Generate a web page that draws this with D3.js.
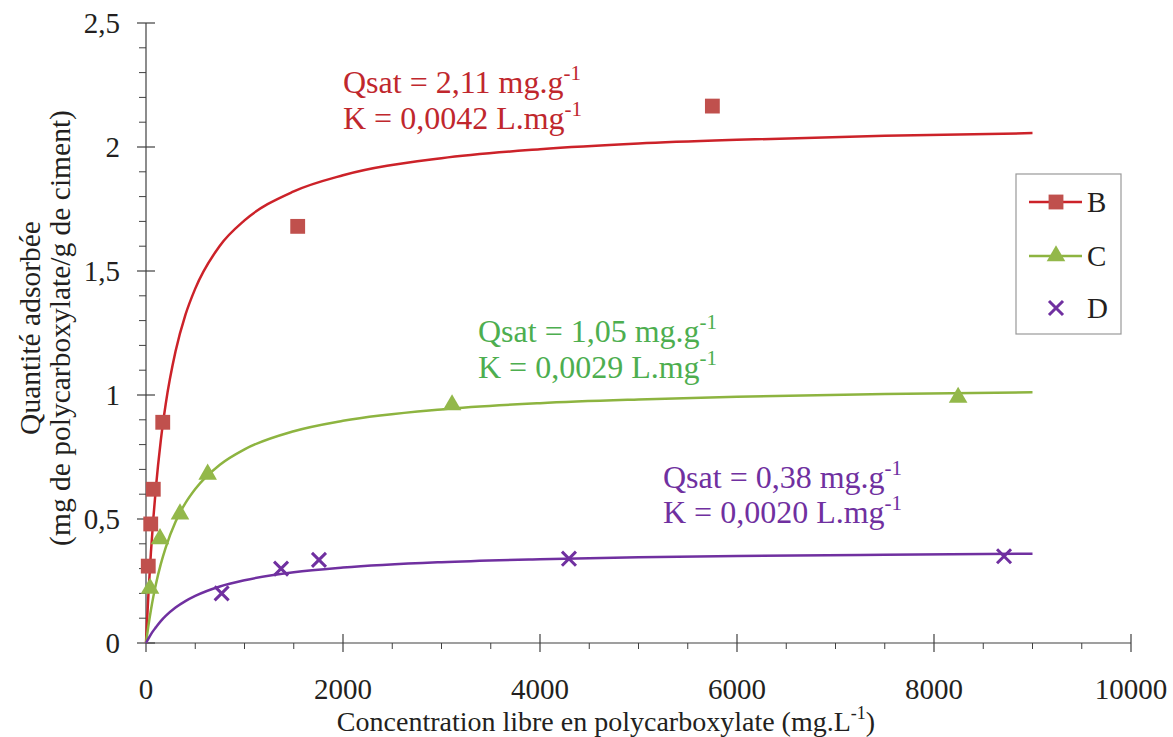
<!DOCTYPE html>
<html>
<head>
<meta charset="utf-8">
<script src="https://cdn.jsdelivr.net/npm/d3@7"></script>
<style>
  html, body { margin: 0; padding: 0; background: #fff; }
  svg { display: block; }
</style>
</head>
<body>
<svg id="chart" width="1173" height="737" font-family="'Liberation Serif', Tinos, 'Times New Roman', Times, 'DejaVu Serif', serif"></svg>
<script>
// ---- Data ----
const seriesNames = ["B", "C", "D"];

// Measured points
const bX = [23, 48, 74, 170, 1540, 5750];
const bY = [0.31, 0.48, 0.62, 0.89, 1.68, 2.165];

const cX = [41, 142, 345, 626, 3107, 8245];
const cY = [0.22, 0.42, 0.52, 0.68, 0.96, 0.99];

const dX = [768, 1371, 1756, 4294, 8711];
const dY = [0.20, 0.30, 0.335, 0.34, 0.35];

// Fitted (Langmuir) curves
const fitX = [0, 10, 25, 50, 75, 100, 150, 200, 300, 400, 500, 750, 1000, 1500, 2000, 3000, 4000, 5000, 6000, 7500, 9000];
const fitB = [0, 0.085, 0.200, 0.366, 0.505, 0.624, 0.816, 0.963, 1.176, 1.323, 1.429, 1.602, 1.704, 1.821, 1.886, 1.955, 1.991, 2.014, 2.029, 2.045, 2.056];
const fitC = [0, 0.030, 0.071, 0.133, 0.188, 0.236, 0.318, 0.385, 0.489, 0.564, 0.621, 0.719, 0.781, 0.854, 0.896, 0.942, 0.967, 0.982, 0.993, 1.004, 1.011];
const fitD = [0, 0.007, 0.018, 0.035, 0.050, 0.063, 0.088, 0.109, 0.143, 0.169, 0.190, 0.228, 0.253, 0.285, 0.304, 0.326, 0.338, 0.346, 0.351, 0.356, 0.360];

// Annotations
const annQsat = ["2,11", "1,05", "0,38"];
const annK = ["0,0042", "0,0029", "0,0020"];

// Axis ticks
const xTicks = [0, 2000, 4000, 6000, 8000, 10000];
const yTicks = [0, 0.5, 1, 1.5, 2, 2.5];
const yTickLabels = ["0", "0,5", "1", "1,5", "2", "2,5"];

// ---- Layout ----
const svg = d3.select("#chart");
const x = d3.scaleLinear().domain([0, 10000]).range([146, 1131]);
const y = d3.scaleLinear().domain([0, 2.5]).range([643, 23]);

const axisColor = "#404040";
const textColor = "#231F20";
const curveColors = ["#CC2229", "#8DB440", "#7030A0"];
const markerColors = ["#C0504D", "#93B84A", "#7030A0"];
const annColors = ["#C0272D", "#4DAE4F", "#7030A0"];

// ---- Axes ----
const gx = svg.append("g");
gx.selectAll("line.minor").data(d3.range(0, 10001, 500).filter(v => v % 2000 !== 0))
  .join("line").attr("x1", d => x(d)).attr("x2", d => x(d))
  .attr("y1", y(0)).attr("y2", y(0) + 6)
  .attr("stroke", axisColor).attr("stroke-width", 1);
gx.selectAll("line.major").data(xTicks).join("line")
  .attr("x1", d => x(d)).attr("x2", d => x(d))
  .attr("y1", y(0) - 9).attr("y2", y(0) + 9)
  .attr("stroke", axisColor).attr("stroke-width", 1.2);
gx.append("line").attr("x1", x(0)).attr("x2", x(10000)).attr("y1", y(0)).attr("y2", y(0))
  .attr("stroke", axisColor).attr("stroke-width", 1.2);
gx.selectAll("text").data(xTicks).join("text")
  .attr("x", d => x(d)).attr("y", 699)
  .attr("text-anchor", "middle").attr("font-size", 29).attr("fill", textColor)
  .text(d => d);

const gy = svg.append("g");
gy.selectAll("line.minor").data(d3.range(0, 26).map(i => i / 10).filter((v, i) => i % 5 !== 0))
  .join("line").attr("x1", x(0) - 7).attr("x2", x(0))
  .attr("y1", d => y(d)).attr("y2", d => y(d))
  .attr("stroke", axisColor).attr("stroke-width", 1);
gy.selectAll("line.major").data(yTicks).join("line")
  .attr("x1", x(0) - 9).attr("x2", x(0) + 9)
  .attr("y1", d => y(d)).attr("y2", d => y(d))
  .attr("stroke", axisColor).attr("stroke-width", 1.2);
gy.append("line").attr("x1", x(0)).attr("x2", x(0)).attr("y1", y(0)).attr("y2", y(2.5))
  .attr("stroke", axisColor).attr("stroke-width", 1.2);
gy.selectAll("text").data(yTicks).join("text")
  .attr("x", 120).attr("y", d => y(d) + 10)
  .attr("text-anchor", "end").attr("font-size", 29).attr("fill", textColor)
  .text((d, i) => yTickLabels[i]);

// Axis titles
const xt = svg.append("text").attr("x", 606).attr("y", 731)
  .attr("text-anchor", "middle").attr("font-size", 28).attr("fill", textColor);
xt.append("tspan").text("Concentration libre en polycarboxylate (mg.L");
xt.append("tspan").attr("dy", -12).attr("font-size", 18).text("-1");
xt.append("tspan").attr("dy", 12).text(")");

const yt = svg.append("g").attr("transform", "translate(0,328) rotate(-90)");
yt.append("text").attr("x", 0).attr("y", 40).attr("text-anchor", "middle")
  .attr("font-size", 29.5).attr("fill", textColor).text("Quantité adsorbée");
yt.append("text").attr("x", 0).attr("y", 70).attr("text-anchor", "middle")
  .attr("font-size", 29.5).attr("fill", textColor).text("(mg de polycarboxylate/g de ciment)");

// ---- Curves ----
const fits = [fitB, fitC, fitD];
const line = d3.line().x(d => x(d[0])).y(d => y(d[1])).curve(d3.curveMonotoneX);
fits.forEach((f, i) => {
  svg.append("path").datum(fitX.map((v, j) => [v, f[j]]))
    .attr("d", line).attr("fill", "none")
    .attr("stroke", curveColors[i]).attr("stroke-width", 2.5);
});

// ---- Markers ----
const sq = d3.symbol().type(d3.symbolSquare).size(220);
const tri = d3.symbol().type(d3.symbolTriangle).size(150);
const cross = d3.symbol().type(d3.symbolX).size(130);

svg.append("g").selectAll("path").data(bX.map((v, i) => [v, bY[i]])).join("path")
  .attr("transform", d => `translate(${x(d[0])},${y(d[1])})`)
  .attr("d", sq).attr("fill", markerColors[0]);
svg.append("g").selectAll("path").data(cX.map((v, i) => [v, cY[i]])).join("path")
  .attr("transform", d => `translate(${x(d[0])},${y(d[1])})`)
  .attr("d", tri).attr("fill", markerColors[1]);
svg.append("g").selectAll("path").data(dX.map((v, i) => [v, dY[i]])).join("path")
  .attr("transform", d => `translate(${x(d[0])},${y(d[1])})`)
  .attr("d", cross).attr("fill", "none").attr("stroke", markerColors[2]).attr("stroke-width", 3);

// ---- Annotations ----
const annPos = [[343, 93, 129], [478, 342, 378], [663, 488, 523]];
annPos.forEach((p, i) => {
  const t1 = svg.append("text").attr("x", p[0]).attr("y", p[1])
    .attr("font-size", 32).attr("fill", annColors[i]);
  t1.append("tspan").text(`Qsat = ${annQsat[i]} mg.g`);
  t1.append("tspan").attr("dy", -13).attr("font-size", 21).text("-1");
  const t2 = svg.append("text").attr("x", p[0]).attr("y", p[2])
    .attr("font-size", 32).attr("fill", annColors[i]);
  t2.append("tspan").text(`K = ${annK[i]} L.mg`);
  t2.append("tspan").attr("dy", -13).attr("font-size", 21).text("-1");
});

// ---- Legend ----
const lg = svg.append("g");
lg.append("rect").attr("x", 1016).attr("y", 174).attr("width", 105).attr("height", 160)
  .attr("fill", "#fff").attr("stroke", "#999").attr("stroke-width", 1.2);
const legY = [202, 256, 308];
const legSym = [sq, tri, cross];
seriesNames.forEach((n, i) => {
  if (i < 2) {
    lg.append("line").attr("x1", 1029).attr("x2", 1082).attr("y1", legY[i]).attr("y2", legY[i])
      .attr("stroke", curveColors[i]).attr("stroke-width", 2.5);
  }
  const m = lg.append("path").attr("transform", `translate(1056,${legY[i]})`).attr("d", legSym[i]);
  if (i < 2) m.attr("fill", markerColors[i]);
  else m.attr("fill", "none").attr("stroke", markerColors[i]).attr("stroke-width", 3);
  lg.append("text").attr("x", 1087).attr("y", legY[i] + 10).attr("font-size", 29)
    .attr("fill", textColor).text(n);
});
</script>
</body>
</html>
